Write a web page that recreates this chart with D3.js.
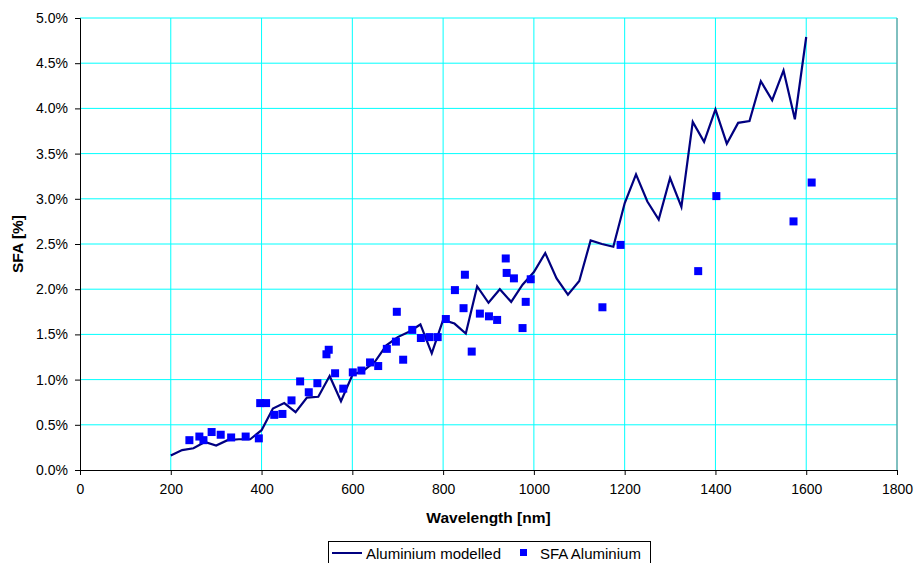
<!DOCTYPE html>
<html>
<head>
<meta charset="utf-8">
<script src="https://cdn.jsdelivr.net/npm/d3@7"></script>
<style>
  body { margin: 0; background: #fff; }
  svg text { font-family: "Liberation Sans", Arial, sans-serif; }
</style>
</head>
<body>
<svg id="chart" width="916" height="563"></svg>
<script>
// modelled curve, every 25 nm
var modelNm = d3.range(200, 1601, 25);
var modelSfa = [
    0.16, 0.22, 0.24, 0.31, 0.27, 0.33, 0.34, 0.34, 0.44, 0.68,
    0.74, 0.64, 0.80, 0.81, 1.04, 0.76, 1.05, 1.10, 1.20, 1.38,
    1.47, 1.53, 1.61, 1.29, 1.66, 1.62, 1.51, 2.03, 1.85, 2.00,
    1.86, 2.05, 2.19, 2.40, 2.12, 1.94, 2.09, 2.54, 2.50, 2.47,
    2.95, 3.27, 2.97, 2.77, 3.23, 2.91, 3.85, 3.63, 3.99, 3.61,
    3.84, 3.86, 4.30, 4.09, 4.42, 3.88, 4.79
];

// measured SFA points
var measNm = [
    241, 263, 272, 290, 310, 333, 365, 394, 397, 410,
    428, 446, 466, 485, 504, 523, 543, 548, 562, 580,
    601, 620, 639, 657, 676, 696, 698, 712, 732, 751,
    770, 788, 806, 826, 845, 848, 863, 881, 901, 919,
    938, 940, 956, 975, 982, 993, 1151, 1191, 1362, 1402,
    1572, 1612
];
var measSfa = [
    0.33, 0.37, 0.33, 0.42, 0.39, 0.36, 0.37, 0.35, 0.74, 0.74,
    0.61, 0.62, 0.77, 0.98, 0.86, 0.96, 1.28, 1.33, 1.07, 0.90,
    1.08, 1.10, 1.19, 1.15, 1.34, 1.42, 1.75, 1.22, 1.55, 1.46,
    1.47, 1.47, 1.67, 1.99, 1.79, 2.16, 1.31, 1.73, 1.70, 1.66,
    2.34, 2.18, 2.12, 1.57, 1.86, 2.11, 1.80, 2.49, 2.20, 3.03,
    2.75, 3.18
];

var xTicks = d3.range(0, 1801, 200);
var yTicks = d3.range(0, 5.01, 0.5);

var svg = d3.select("#chart");
var plot = { left: 80, right: 897, top: 18, bottom: 470 };

var x = d3.scaleLinear().domain([0, 1800]).range([plot.left, plot.right]);
var y = d3.scaleLinear().domain([0, 5]).range([plot.bottom, plot.top]);

// gridlines
svg.append("g").selectAll("line")
    .data(xTicks.slice(1))
    .enter().append("line")
    .attr("x1", function(d) { return x(d); })
    .attr("x2", function(d) { return x(d); })
    .attr("y1", plot.top).attr("y2", plot.bottom)
    .attr("stroke", "#00ffff").attr("stroke-width", 1);
svg.append("g").selectAll("line")
    .data(yTicks.slice(1))
    .enter().append("line")
    .attr("x1", plot.left).attr("x2", plot.right)
    .attr("y1", function(d) { return y(d); })
    .attr("y2", function(d) { return y(d); })
    .attr("stroke", "#00ffff").attr("stroke-width", 1);

// plot frame (right edge grey)
svg.append("line")
    .attr("x1", plot.right).attr("x2", plot.right)
    .attr("y1", plot.top).attr("y2", plot.bottom)
    .attr("stroke", "#808080").attr("stroke-width", 1);

// axes
var xAxis = svg.append("g")
    .attr("transform", "translate(0," + plot.bottom + ")")
    .call(d3.axisBottom(x).tickValues(xTicks).tickSize(5).tickPadding(9).tickFormat(d3.format("d")));
var yAxis = svg.append("g")
    .attr("transform", "translate(" + plot.left + ",0)")
    .call(d3.axisLeft(y).tickValues(yTicks).tickSize(5).tickPadding(7)
        .tickFormat(function(d) { return d.toFixed(1) + "%"; }));
[xAxis, yAxis].forEach(function(a) {
    a.select(".domain").attr("stroke", "#000");
    a.selectAll(".tick line").attr("stroke", "#000");
    a.selectAll("text").attr("font-size", 14).attr("fill", "#000")
        .attr("font-family", "Liberation Sans, Arial, sans-serif");
});

// axis titles
svg.append("text")
    .attr("x", x(900)).attr("y", 523)
    .attr("text-anchor", "middle")
    .attr("font-size", 15.5).attr("font-weight", "bold")
    .text("Wavelength [nm]");
svg.append("text")
    .attr("transform", "translate(23," + y(2.5) + ") rotate(-90)")
    .attr("text-anchor", "middle")
    .attr("font-size", 15.5).attr("font-weight", "bold")
    .text("SFA [%]");

// modelled line
var line = d3.line()
    .x(function(d, i) { return x(modelNm[i]); })
    .y(function(d) { return y(d); });
svg.append("path")
    .datum(modelSfa)
    .attr("d", line)
    .attr("fill", "none")
    .attr("stroke", "#000080")
    .attr("stroke-width", 2.2)
    .attr("stroke-linejoin", "miter");

// measured squares
svg.append("g").selectAll("rect")
    .data(measSfa)
    .enter().append("rect")
    .attr("x", function(d, i) { return x(measNm[i]) - 4; })
    .attr("y", function(d) { return y(d) - 4; })
    .attr("width", 8).attr("height", 8)
    .attr("fill", "#0000ff");

// legend
var legend = svg.append("g");
legend.append("rect")
    .attr("x", 328.5).attr("y", 541.5)
    .attr("width", 322).attr("height", 30)
    .attr("fill", "#fff").attr("stroke", "#000").attr("stroke-width", 1);
legend.append("line")
    .attr("x1", 332).attr("x2", 362)
    .attr("y1", 553).attr("y2", 553)
    .attr("stroke", "#000080").attr("stroke-width", 2);
legend.append("text")
    .attr("x", 366).attr("y", 558.5)
    .attr("font-size", 15)
    .text("Aluminium modelled");
legend.append("rect")
    .attr("x", 520).attr("y", 549)
    .attr("width", 7).attr("height", 7)
    .attr("fill", "#0000ff");
legend.append("text")
    .attr("x", 540).attr("y", 558.5)
    .attr("font-size", 15)
    .text("SFA Aluminium");
</script>
</body>
</html>
